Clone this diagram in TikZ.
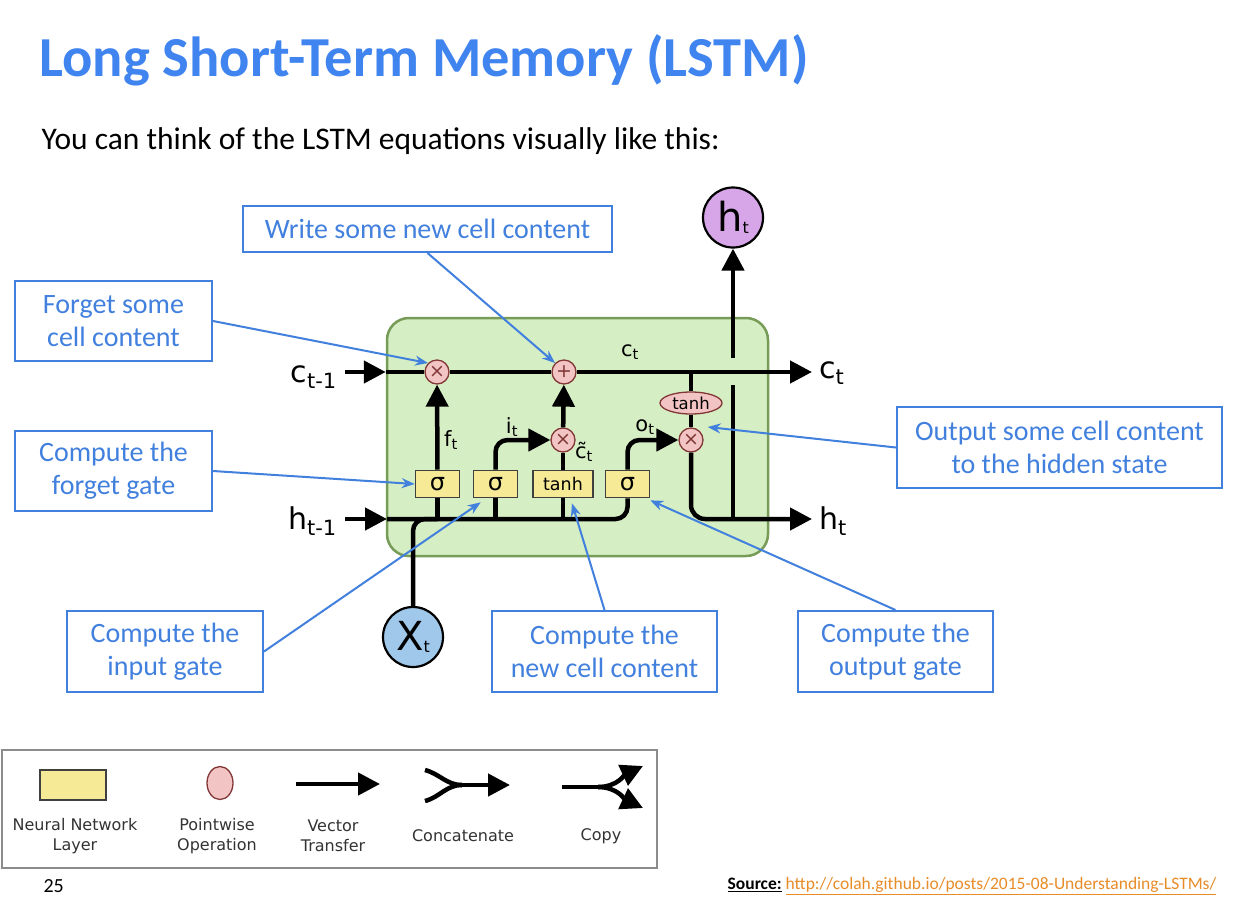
\documentclass[tikz,border=0pt]{standalone}
\usepackage{fontspec}
\setmainfont{Carlito}
\newfontfamily\diagfont{DejaVu Sans}
\usepackage{xcolor}
\usepackage{tikz}
\usetikzlibrary{arrows.meta,positioning,shapes.geometric,calc}
\definecolor{ttl}{RGB}{64,132,240}
\definecolor{cb}{RGB}{66,128,222}
\definecolor{cellg}{RGB}{214,238,196}
\definecolor{celld}{RGB}{118,156,88}
\definecolor{nnl}{RGB}{246,234,150}
\definecolor{pwf}{RGB}{242,196,196}
\definecolor{pwd}{RGB}{130,55,55}
\definecolor{hcol}{RGB}{214,166,232}
\definecolor{xcol}{RGB}{160,200,234}
\definecolor{src}{RGB}{232,140,40}
\tikzset{
  callout/.style = {rectangle, draw=cb, line width=2pt, fill=white, text=cb,
                    align=center, inner sep=2pt, font=\fontsize{28}{33}\selectfont},
  cellbox/.style = {rectangle, rounded corners=22pt, draw=celld, line width=2.5pt,
                    fill=cellg, minimum width=381pt, minimum height=238pt},
  layer/.style   = {rectangle, draw=black!75, line width=1.6pt, fill=nnl,
                    minimum width=44pt, minimum height=27pt, inner sep=0pt,
                    font=\diagfont\fontsize{24}{24}\selectfont},
  pw/.style      = {circle, draw=pwd, line width=1.3pt, fill=pwf, minimum size=24pt,
                    inner sep=0pt, text=pwd, font=\diagfont\fontsize{19}{19}\selectfont},
  io/.style      = {circle, draw=black, line width=2.2pt, minimum size=60pt,
                    inner sep=0pt, font=\diagfont\fontsize{40}{40}\selectfont},
  lbl/.style     = {inner sep=1pt, font=\diagfont\fontsize{30}{30}\selectfont},
  glbl/.style    = {inner sep=1pt, font=\diagfont\fontsize{21}{21}\selectfont},
  leg/.style     = {align=center, text=black!80, font=\diagfont\fontsize{16}{20}\selectfont},
  ln/.style      = {line width=4.5pt, black},
  fl/.style      = {ln, -{Triangle[length=22pt, width=22pt]}},
  cl/.style      = {draw=cb, line width=2pt, -{Stealth[length=13pt, width=10pt]}},
}

\begin{document}
\begin{tikzpicture}[x=1pt, y=-1pt]
  \useasboundingbox[fill=white] (0,0) rectangle (1244,916);
  % titles
  \node[anchor=west, text=ttl, font=\bfseries\fontsize{56.5}{58}\selectfont] (title) at (36,60) {Long Short-Term Memory (LSTM)};
  \node[anchor=west, font=\fontsize{31.5}{33}\selectfont] (subtitle) at (38,141) {You can think of the LSTM equations visually like this:};

  % LSTM cell
  \node[cellbox] (cell) at (577.5,437) {};
  \node[pw] (fmul) at (437,372) {×};
  \node[pw] (add)  at (564,372) {+};
  \node[pw] (imul) at (563,440) {×};
  \node[pw] (omul) at (691,440) {×};
  \node[ellipse, draw=pwd, line width=1.3pt, fill=pwf, minimum width=62pt, minimum height=22pt,
        inner sep=0pt, font=\diagfont\fontsize{16.5}{16.5}\selectfont] (tc) at (691,403) {tanh};
  \node[layer] (sf) at (437.5,484) {σ};
  \node[layer] (si) at (495.5,484) {σ};
  \node[layer, minimum width=60pt, font=\diagfont\fontsize{17.5}{17.5}\selectfont] (tg) at (563,484) {tanh};
  \node[layer] (so) at (627.5,484) {σ};
  \node[io, fill=hcol] (ht) at (733,217.5) {h\raisebox{-2pt}{\fontsize{16}{16}\selectfont t}};
  \node[io, fill=xcol] (xt) at (413,637) {X\raisebox{-2pt}{\fontsize{16}{16}\selectfont t}};

  % inputs and outputs
  \node[lbl, anchor=base east] (cprev) at (338,382) {c\textsubscript{t-1}};
  \node[lbl, anchor=base east] (hprev) at (338,529) {h\textsubscript{t-1}};
  \node[lbl, anchor=base west] (cout) at (818,378) {c\textsubscript{t}};
  \node[lbl, anchor=base west] (hout) at (818,529) {h\textsubscript{t}};
  \coordinate (cin)  at (cell.west |- fmul);
  \coordinate (hin)  at (387,519);
  \coordinate (cend) at (812,372);
  \coordinate (hend) at (812,519);
  \coordinate (cj)   at (tc |- add);
  \coordinate (hj)   at (733,519);
  \coordinate (gapb) at (733,385);
  \coordinate (gapt) at (733,358);
  \coordinate (cstart) at (345,372);
  \coordinate (hstart) at (345,519);

  % cell state
  \draw[fl] (cstart) -- (cin);
  \draw[ln] (cin) -- (fmul) -- (add) -- (cj);
  \draw[fl] (cj) -- (cend);
  % hidden state
  \draw[fl] (hstart) -- (hin);
  \draw[ln, rounded corners=12pt] (hin) -- (so |- hin) -- (so);
  \draw[ln, rounded corners=12pt] (xt) -- (xt |- hin) -- (sf |- hin);
  \draw[ln] (sf |- hin) -- (sf);
  \draw[ln] (si |- hin) -- (si);
  \draw[ln] (tg |- hin) -- (tg);
  % gates
  \draw[fl] (sf) -- (fmul);
  \draw[fl, rounded corners=12pt] (si) |- (imul);
  \draw[ln] (tg) -- (imul);
  \draw[fl] (imul) -- (add);
  \draw[fl, rounded corners=12pt] (so) |- (omul);
  \draw[ln] (cj) -- (tc);
  \draw[ln] (tc) -- (omul);
  \draw[fl, rounded corners=14pt] (omul) |- (hend);
  \draw[ln] (hj) -- (gapb);
  \draw[fl] (gapt) -- (ht);

  % small labels
  \node[glbl] (flab) at (451,440) {f\textsubscript{t}};
  \node[glbl] (ilab) at (512,427) {i\textsubscript{t}};
  \node[glbl] (olab) at (645,427) {o\textsubscript{t}};
  \node[glbl] (ctil) at (584,452) {\~{c}\textsubscript{t}};
  \node[glbl] (clab) at (630,352) {c\textsubscript{t}};

  % callouts
  \node[callout, minimum width=369pt, minimum height=46pt] (write)  at (427.5,229) {Write some new cell content};
  \node[callout, minimum width=197pt, minimum height=80pt] (forget) at (113.5,321) {Forget some\\cell content};
  \node[callout, minimum width=197pt, minimum height=80pt] (fgate)  at (113.5,471) {Compute the\\forget gate};
  \node[callout, minimum width=196pt, minimum height=81pt] (igate)  at (165,651.5) {Compute the\\input gate};
  \node[callout, minimum width=225pt, minimum height=81pt] (newc)   at (604.5,651.5) {Compute the\\new cell content};
  \node[callout, minimum width=195pt, minimum height=81pt] (ogate)  at (895.5,651.5) {Compute the\\output gate};
  \node[callout, minimum width=325pt, minimum height=81pt] (outc)   at (1059.5,447.5) {Output some cell content\\to the hidden state};
  \draw[cl] (write.south) -- (add.north west);
  \draw[cl] (forget.east) -- (fmul.north west);
  \draw[cl] (fgate.east) -- (sf.west);
  \draw[cl] (igate.east) -- ($(si.south west)+(8,4)$);
  \draw[cl] (newc.north) -- ($(tg.south)+(9,5)$);
  \draw[cl] (ogate.north) -- ($(so.south east)+(0,2)$);
  \draw[cl] (outc.west) -- ($(omul.east)+(4,-13)$);

  % legend
  \node[rectangle, draw=black!45, line width=1.5pt, minimum width=655pt, minimum height=118pt] (legend) at (329.5,809) {};
  \node[layer, minimum width=66pt, minimum height=30pt] (lnn) at (73,785) {};
  \node[ellipse, draw=pwd, line width=1.3pt, fill=pwf, minimum width=26pt, minimum height=33pt] (lpw) at (220,783) {};
  \coordinate (va) at (296,784);
  \coordinate (vb) at (380,784);
  \draw[fl] (va) -- (vb);
  \coordinate (ca1) at (425,770);
  \coordinate (ca2) at (425,801);
  \coordinate (cam) at (462,785);
  \coordinate (cab) at (510,785);
  \draw[ln] (ca1) to[out=-15, in=180] (cam);
  \draw[ln] (ca2) to[out=15, in=180] (cam);
  \draw[fl] (cam) -- (cab);
  \coordinate (cp0) at (562,787);
  \coordinate (cpm) at (598,787);
  \coordinate (cpt) at (643,766);
  \coordinate (cpb) at (643,808);
  \draw[ln] (cp0) -- (cpm);
  \draw[fl] (cpm) to[out=0, in=-155] (cpt);
  \draw[fl] (cpm) to[out=0, in=155] (cpb);
  \node[leg] (tnn) at (75,836) {Neural Network\\Layer};
  \node[leg] (tpw) at (217,836) {Pointwise\\Operation};
  \node[leg] (tvt) at (333,836) {Vector\\Transfer};
  \node[leg] (tcc) at (463,836) {Concatenate};
  \node[leg] (tcp) at (601,836) {Copy};

  % footer
  \node[anchor=west, font=\fontsize{20}{20}\selectfont] (page) at (40,886) {25};
  \node[anchor=east, font=\fontsize{17.5}{18}\selectfont] (source) at (1220,886)
    {\underline{\textbf{Source:}} \textcolor{src}{\underline{http://colah.github.io/posts/2015-08-Understanding-LSTMs/}}};
\end{tikzpicture}
\end{document}
